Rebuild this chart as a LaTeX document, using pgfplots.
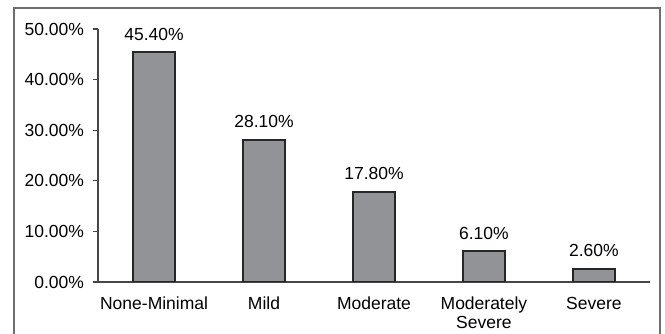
\documentclass[border=0pt]{standalone}
\usepackage{fontspec}
\setmainfont{Liberation Sans}
\usepackage{pgfplots}
\pgfplotsset{compat=1.18}
\definecolor{barfill}{RGB}{146,147,151}
\definecolor{framegray}{RGB}{110,110,110}
\definecolor{axisgray}{RGB}{70,70,70}
\begin{document}
\fontsize{17.5}{20}\selectfont
\begin{tikzpicture}[x=1pt,y=1pt]
\useasboundingbox (0,0) rectangle (665,334);
\draw[framegray, line width=2pt] (14,0) -- (14,326) -- (660,326) -- (660,0);
\begin{axis}[
  at={(98pt,52pt)}, anchor=south west,
  scale only axis, width=552pt, height=253pt,
  xmin=-0.51, xmax=4.51, ymin=0, ymax=50,
  axis x line*=bottom, axis y line*=left,
  axis line style={-, line width=1.3pt, axisgray},
  ytick={0,10,20,30,40,50},
  yticklabels={0.00\%,10.00\%,20.00\%,30.00\%,40.00\%,50.00\%},
  xtick={0,1,2,3,4},
  xticklabels={None-Minimal,Mild,Moderate,Moderately\\Severe,Severe},
  xticklabel style={align=center, font=\fontsize{17.5}{19}\selectfont, yshift=-4pt},
  yticklabel style={font=\fontsize{17.5}{20}\selectfont, xshift=-3pt},
  major x tick style={draw=none},
  major y tick style={line width=1.3pt, axisgray},
  tick align=outside, major tick length=5pt,
  point meta=explicit symbolic,
  nodes near coords,
  every node near coord/.append style={font=\fontsize{17.5}{20}\selectfont, text=black, yshift=5pt},
]
\addplot[ybar, bar width=42pt, fill=barfill, draw=black!85, line width=2pt]
  coordinates {(0,45.4)[45.40\%] (1,28.1)[28.10\%] (2,17.8)[17.80\%] (3,6.1)[6.10\%] (4,2.6)[2.60\%]};
\end{axis}
\end{tikzpicture}
\end{document}
